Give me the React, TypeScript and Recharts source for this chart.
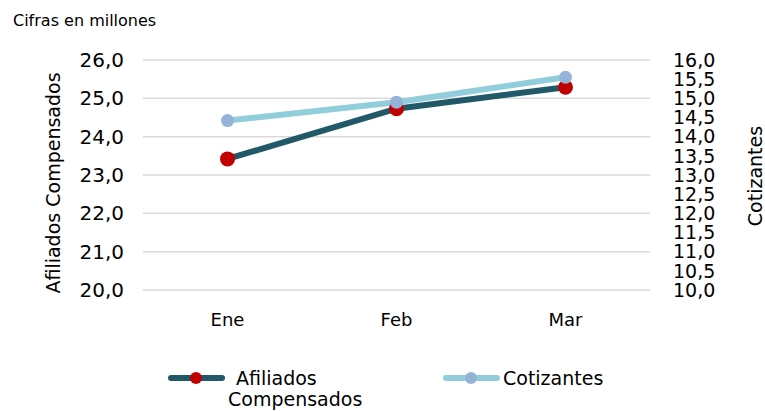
import React from 'react';
import { LineChart, Line, XAxis, YAxis, CartesianGrid, Legend } from 'recharts';

const meses = ['Ene', 'Feb', 'Mar'];
const afiliados = [23.42, 24.73, 25.29];
const cotizantes = [14.42, 14.9, 15.55];
const leftTicks = [20, 21, 22, 23, 24, 25, 26];
const rightTicks = [10, 10.5, 11, 11.5, 12, 12.5, 13, 13.5, 14, 14.5, 15, 15.5, 16];

const data = meses.map((m, i) => ({ mes: m, afiliados: afiliados[i], cotizantes: cotizantes[i] }));

const FONT = '"DejaVu Sans", Verdana, sans-serif';
const DARK = '#215968';
const RED = '#C00000';
const LIGHT = '#92CDDC';
const LIGHTDOT = '#95B3D7';

const fmt = (v: number) => v.toFixed(1).replace('.', ',');

const LegendContent = () => (
  <svg width={765} height={81} style={{ display: 'block', fontFamily: FONT }}>
    <line x1={171} y1={48} x2={222} y2={48} stroke={DARK} strokeWidth={6} strokeLinecap="round" />
    <circle cx={196} cy={48} r={6} fill={RED} />
    <text x={236} y={55} fontSize={19} fill="#000">Afiliados</text>
    <text x={228} y={76} fontSize={19} fill="#000">Compensados</text>
    <line x1={446} y1={48} x2={497} y2={48} stroke={LIGHT} strokeWidth={6} strokeLinecap="round" />
    <circle cx={471} cy={48} r={6} fill={LIGHTDOT} />
    <text x={503} y={55} fontSize={19} fill="#000">Cotizantes</text>
  </svg>
);

export default function App() {
  return (
    <div style={{ position: 'absolute', left: 0, top: 0, width: 765, height: 411, background: '#fff', fontFamily: FONT }}>
      <div style={{ position: 'absolute', left: 13, top: 11, fontSize: 16, fontFamily: FONT, color: '#000', lineHeight: '20px' }}>
        Cifras en millones
      </div>
      <LineChart width={765} height={411} data={data} margin={{ top: 60, right: 0, bottom: 0, left: 0 }}>
        <CartesianGrid yAxisId="left" vertical={false} stroke="#D9D9D9" strokeWidth={1.5} />
        <XAxis
          dataKey="mes"
          axisLine={false}
          tickLine={false}
          tickSize={0}
          tickMargin={23}
          height={40}
          padding={{ left: 84.5, right: 84.5 }}
          tick={{ fontSize: 18, fill: '#000', fontFamily: FONT }}
        />
        <YAxis
          yAxisId="left"
          orientation="left"
          width={143}
          domain={[20, 26]}
          ticks={leftTicks}
          interval={0}
          tickFormatter={fmt}
          axisLine={false}
          tickLine={false}
          tickSize={0}
          tickMargin={19}
          tick={{ fontSize: 20, fill: '#000', fontFamily: FONT }}
          label={{
            content: (p: any) => {
              const vb = p.viewBox || {};
              const cx = (vb.x || 0) + 53;
              const cy = (vb.y || 0) + (vb.height || 0) / 2 + 8;
              return (
                <text x={cx} y={cy} transform={`rotate(-90, ${cx}, ${cy})`} textAnchor="middle" dominantBaseline="central" fontSize={19} fontFamily={FONT} fill="#000">
                  Afiliados Compensados
                </text>
              );
            },
          }}
        />
        <YAxis
          yAxisId="right"
          orientation="right"
          width={115}
          domain={[10, 16]}
          ticks={rightTicks}
          interval={0}
          tickFormatter={fmt}
          axisLine={false}
          tickLine={false}
          tickSize={0}
          tickMargin={23}
          tick={{ fontSize: 19, fill: '#000', fontFamily: FONT }}
          label={{
            content: (p: any) => {
              const vb = p.viewBox || {};
              const cx = (vb.x || 0) + 105;
              const cy = (vb.y || 0) + (vb.height || 0) / 2 + 1;
              return (
                <text x={cx} y={cy} transform={`rotate(-90, ${cx}, ${cy})`} textAnchor="middle" dominantBaseline="central" fontSize={19} fontFamily={FONT} fill="#000">
                  Cotizantes
                </text>
              );
            },
          }}
        />
        <Legend verticalAlign="bottom" height={81} content={() => <LegendContent />} />
        <Line
          yAxisId="left"
          type="linear"
          dataKey="afiliados"
          name="Afiliados Compensados"
          stroke={DARK}
          strokeWidth={6}
          dot={{ r: 7.5, fill: RED, stroke: RED, strokeWidth: 0 }}
          activeDot={false}
          isAnimationActive={false}
        />
        <Line
          yAxisId="right"
          type="linear"
          dataKey="cotizantes"
          name="Cotizantes"
          stroke={LIGHT}
          strokeWidth={6}
          dot={{ r: 6.5, fill: LIGHTDOT, stroke: LIGHTDOT, strokeWidth: 0 }}
          activeDot={false}
          isAnimationActive={false}
        />
      </LineChart>
    </div>
  );
}
